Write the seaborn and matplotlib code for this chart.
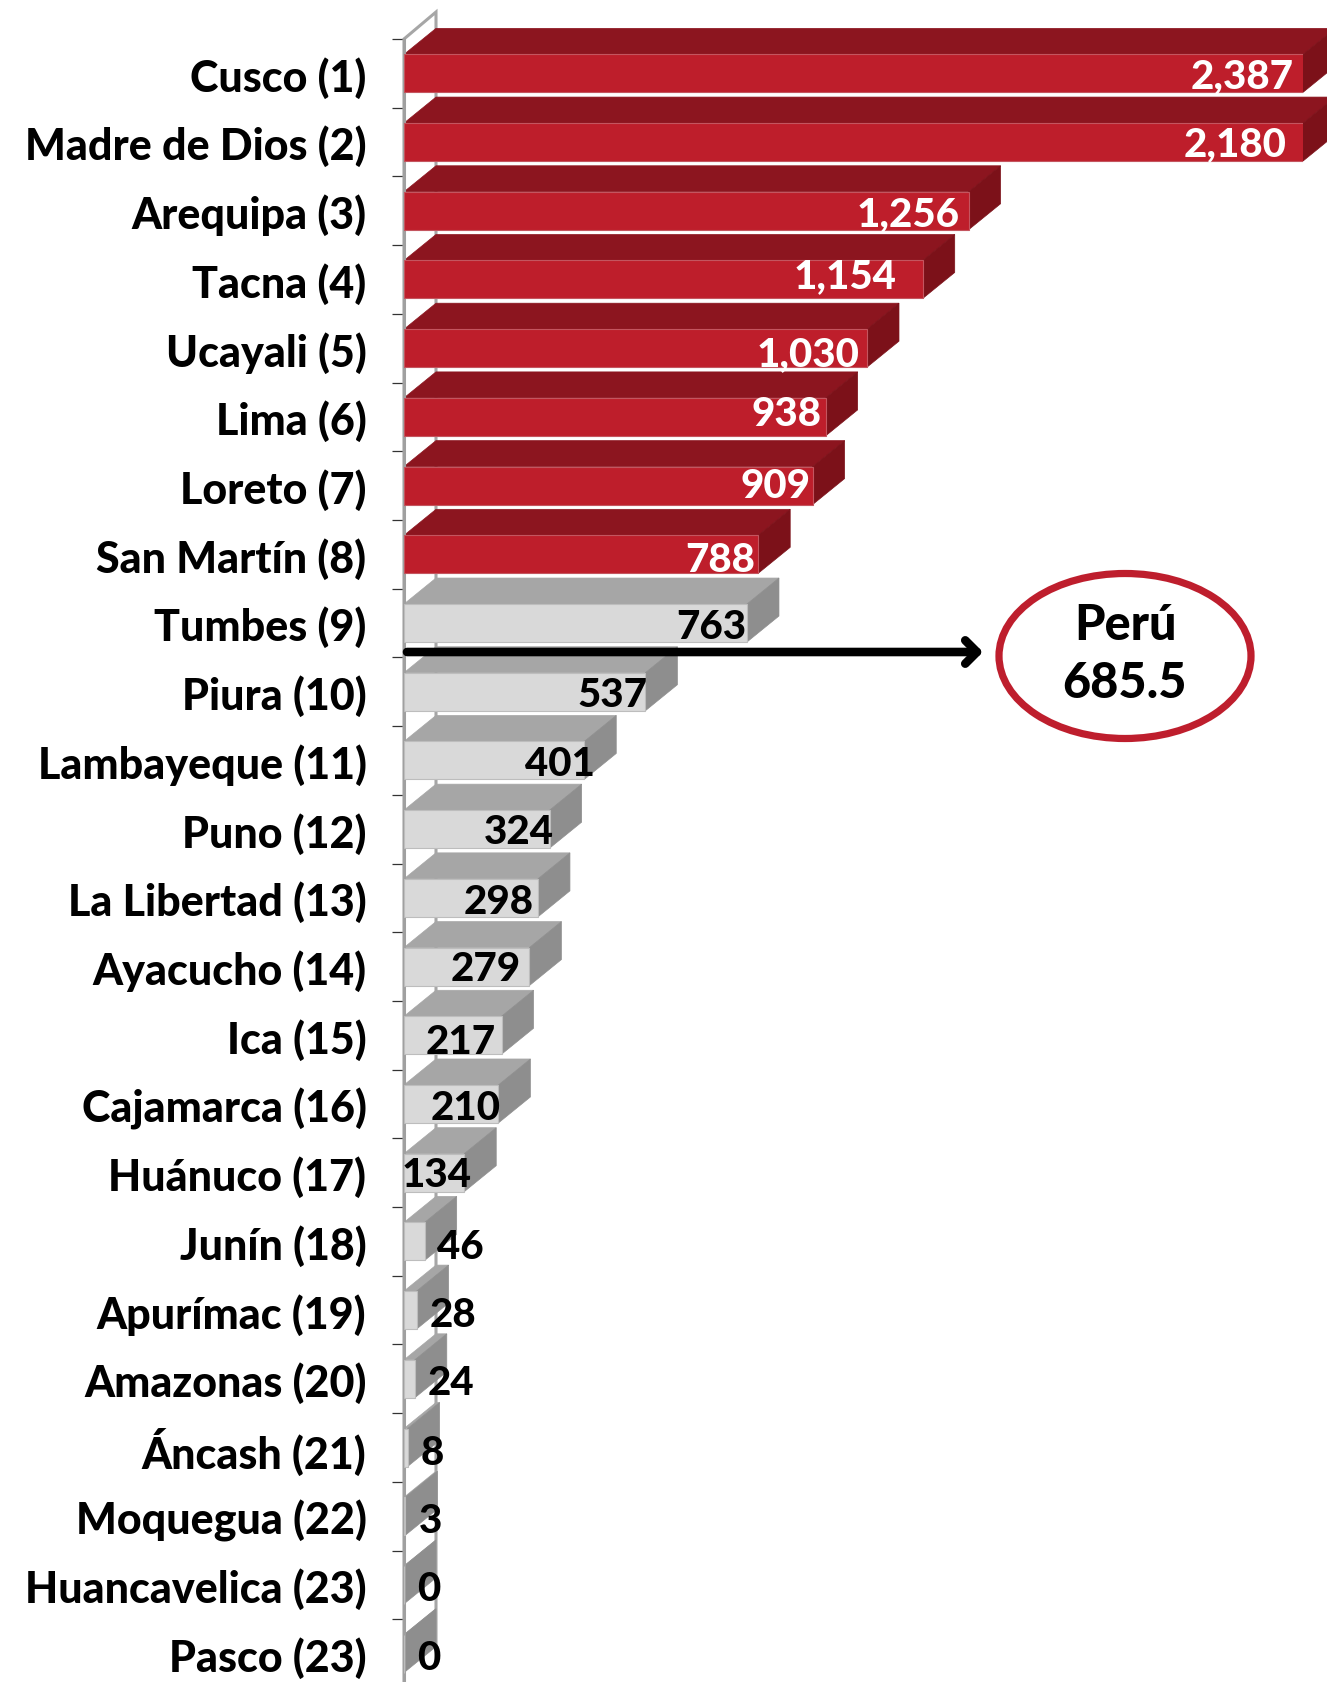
import matplotlib
matplotlib.use("Agg")
import matplotlib.pyplot as plt
import pandas as pd
import seaborn as sns
from matplotlib.patches import Ellipse, Polygon
from matplotlib.transforms import Affine2D

# ==================================================
# Daten
# ==================================================
regions = ["Cusco (1)", "Madre de Dios (2)", "Arequipa (3)", "Tacna (4)", "Ucayali (5)", "Lima (6)",
           "Loreto (7)", "San Martín (8)", "Tumbes (9)", "Piura (10)", "Lambayeque (11)", "Puno (12)",
           "La Libertad (13)", "Ayacucho (14)", "Ica (15)", "Cajamarca (16)", "Huánuco (17)", "Junín (18)",
           "Apurímac (19)", "Amazonas (20)", "Áncash (21)", "Moquegua (22)", "Huancavelica (23)", "Pasco (23)"]
values = [2387, 2180, 1256, 1154, 1030, 938, 909, 788, 763, 537, 401, 324,
          298, 279, 217, 210, 134, 46, 28, 24, 8, 3, 0, 0]
peru_label = "Perú"
peru_value = 685.5
axis_max = 2000
n_highlight = 8  # die ersten acht Regionen sind rot

# Label-Versatz zum Balkenende in Pixeln (im Original von Hand verschoben)
label_dx = [-61, -68, -60, -78, -59, -39, -37, -38, -36, -33, -24, -31,
            -39, -44, -41, -33, -28, 36, 36, 36, 25, 25, 25, 25]
label_dy = [-2, -2, -3, 4, -5, 3, 0, -5, -3, -3, -3, -2, -4, -2, -6, -4, -2, -5, -4, -4, -5, -4, -4, -4]

# ==================================================
# Layout / Farben
# ==================================================
W, H = 1327, 1683
AX_LEFT, AX_RIGHT, AX_TOP, AX_BOTTOM = 404, 1303, 40, 1689
DEPTH_X, DEPTH_Y = 32, 26
FONT = "Lato"

RED = {"front": "#BE1E2B", "top": "#8C151F", "side": "#7C1119", "edge": "#C4555F"}
GRAY = {"front": "#D9D9D9", "top": "#A6A6A6", "side": "#8E8E8E", "edge": "#BDBDBD"}

sns.set_theme(style="white")
plt.rcParams["font.family"] = [FONT, "DejaVu Sans"]

df = pd.DataFrame({"region": regions, "value": values})
bar_colors = [RED["front"] if i < n_highlight else GRAY["front"] for i in range(len(values))]

fig = plt.figure(figsize=(W / 100, H / 100), dpi=100)
ax = fig.add_axes([AX_LEFT / W, 1 - AX_BOTTOM / H, (AX_RIGHT - AX_LEFT) / W, (AX_BOTTOM - AX_TOP) / H])
px = Affine2D().scale(1, -1).translate(0, H)  # Pixel von oben links

sns.barplot(data=df, y="region", x="value", hue="region", palette=bar_colors, legend=False,
            dodge=False, width=0.553, saturation=1, ax=ax, zorder=3)
ax.set_xlim(0, axis_max)
ax.set_ylim(len(regions) - 0.5, -0.5)


def to_px(x, y):
    xp, yp = ax.transData.transform((x, y))
    return xp, H - yp


# Rückwand
wall_top = to_px(0, -0.5)
wall_bottom = to_px(0, len(regions) - 0.5)
wall = [wall_bottom, wall_top, (wall_top[0] + DEPTH_X, wall_top[1] - DEPTH_Y - 1),
        (wall_bottom[0] + DEPTH_X, wall_bottom[1] - DEPTH_Y - 1)]
ax.add_patch(Polygon(wall, closed=False, transform=px, fill=False, edgecolor="#A6A6A6", linewidth=2.2,
                     clip_on=False, zorder=1))

# Balken: Vorderseite von seaborn, Ober- und Seitenfläche aus der Geometrie der Balken
for i, (bar, value) in enumerate(zip(ax.patches, values)):
    colors = RED if i < n_highlight else GRAY
    bar.set_edgecolor(colors["edge"])
    bar.set_linewidth(0.8)
    x_end = min(bar.get_width(), axis_max)
    x0, y0 = to_px(0, bar.get_y())
    x1, y1 = to_px(x_end, bar.get_y() + bar.get_height())
    top = [(x0, y0), (x1, y0), (x1 + DEPTH_X, y0 - DEPTH_Y), (x0 + DEPTH_X, y0 - DEPTH_Y)]
    side = [(x1, y0), (x1, y1), (x1 + DEPTH_X, y1 - DEPTH_Y), (x1 + DEPTH_X, y0 - DEPTH_Y)]
    ax.add_patch(Polygon(top, transform=px, facecolor=colors["top"], edgecolor=colors["top"], linewidth=0.5,
                         clip_on=False, zorder=2))
    ax.add_patch(Polygon(side, transform=px, facecolor=colors["side"], edgecolor=colors["side"], linewidth=0.5,
                         clip_on=False, zorder=2))

# Werte
for i, (value, dx, dy) in enumerate(zip(values, label_dx, label_dy)):
    x_end = min(value, axis_max)
    ax.annotate(f"{value:,}", xy=(x_end, i), xytext=(dx * 0.72, dy * 0.72), textcoords="offset points",
                ha="center", va="center", fontsize=29, fontweight="black",
                color="white" if i < n_highlight else "black", annotation_clip=False, zorder=6)

# Achsen
for name in ["top", "right", "bottom"]:
    ax.spines[name].set_visible(False)
ax.spines["left"].set_color("#A0A0A0")
ax.spines["left"].set_linewidth(2.2)
ax.set_xlabel("")
ax.set_ylabel("")
ax.set_xticks([])
ax.set_yticks(range(len(regions)), regions, fontsize=31, fontweight="black", color="black")
ax.set_yticks([i - 0.5 for i in range(len(regions))], minor=True)
ax.tick_params(axis="y", which="major", length=0, pad=27)
ax.tick_params(axis="y", which="minor", left=True, length=9, width=0.9, color="#333333")

# Peru-Durchschnitt
ax.annotate("", xy=(983, 653), xytext=(AX_LEFT + 3, 653), xycoords=px, textcoords=px,
            arrowprops=dict(arrowstyle="->,head_length=0.7,head_width=0.7", color="black", lw=6.2,
                            shrinkA=0, shrinkB=0), zorder=5, annotation_clip=False)
ax.add_patch(Ellipse((1125, 657), 252, 165, transform=px, fill=False, edgecolor="#BE1E2D", linewidth=5.2,
                     clip_on=False, zorder=5))
fig.text(1125 / W, 1 - 626 / H, peru_label, ha="center", va="center", fontsize=35, fontweight="black", color="black")
fig.text(1125 / W, 1 - 684 / H, f"{peru_value}", ha="center", va="center", fontsize=35, fontweight="black", color="black")

fig.savefig("out.png", dpi=100)
plt.close(fig)
